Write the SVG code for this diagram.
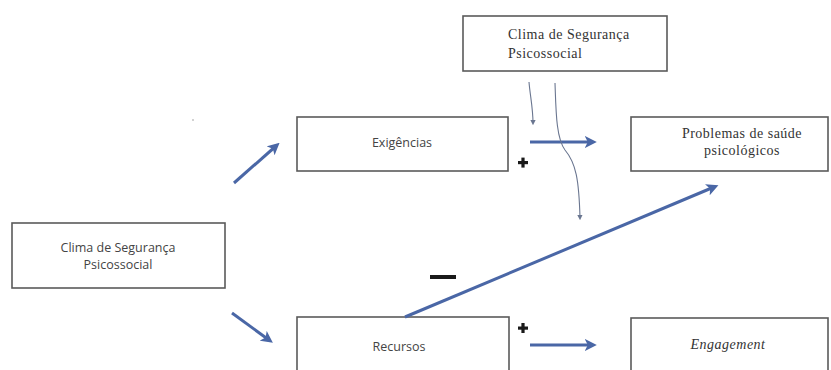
<svg xmlns="http://www.w3.org/2000/svg" width="831" height="370" viewBox="0 0 831 370">
<defs>
<style>
.box{fill:#fff;stroke:#5a5a5a;stroke-width:1.6}
.sans{font-family:"Open Sans","DejaVu Sans",sans-serif;font-size:12.5px;fill:#444}
.serif{font-family:"Liberation Serif","DejaVu Serif",serif;font-size:14px;letter-spacing:0.5px;fill:#333}
.thick{stroke:#4a67a6;stroke-width:3;fill:none;marker-end:url(#ah)}
.thin{stroke:#6a7690;stroke-width:1.1;fill:none;marker-end:url(#ahs)}
.sign{fill:#1a1a1a}
</style>
<marker id="ah" markerWidth="4" markerHeight="4" refX="2.4" refY="2" orient="auto" markerUnits="strokeWidth">
<path d="M0,0 L4,2 L0,4 L1,2 Z" fill="#4a67a6"/>
</marker>
<marker id="ahs" markerWidth="5" markerHeight="5" refX="3" refY="2.5" orient="auto" markerUnits="strokeWidth">
<path d="M0,0 L5,2.5 L0,5 Z" fill="#6a7690"/>
</marker>
</defs>
<rect width="831" height="370" fill="#fff"/>
<g id="node-clima-top">
<rect class="box" x="463" y="16" width="204" height="55"/>
<text class="serif" x="508" y="39">Clima de Segurança</text>
<text class="serif" x="508" y="58">Psicossocial</text>
</g>
<g id="node-exigencias">
<rect class="box" x="297" y="117" width="211" height="54"/>
<text class="sans" x="402" y="147" text-anchor="middle">Exigências</text>
</g>
<g id="node-problemas">
<rect class="box" x="631" y="117" width="197" height="54"/>
<text class="serif" x="742" y="138" text-anchor="middle">Problemas de saúde</text>
<text class="serif" x="742" y="155" text-anchor="middle">psicológicos</text>
</g>
<g id="node-clima-left">
<rect class="box" x="12" y="223" width="213" height="65"/>
<text class="sans" x="118" y="252" text-anchor="middle">Clima de Segurança</text>
<text class="sans" x="118" y="269" text-anchor="middle">Psicossocial</text>
</g>
<g id="node-recursos">
<rect class="box" x="297" y="317" width="212" height="60"/>
<text class="sans" x="399" y="351" text-anchor="middle">Recursos</text>
</g>
<g id="node-engagement">
<rect class="box" x="631" y="318" width="197" height="60"/>
<text class="serif" x="728" y="349" text-anchor="middle" font-style="italic">Engagement</text>
</g>
<g id="connectors">
<line class="thick" x1="234" y1="183" x2="276" y2="146"/>
<line class="thick" x1="232" y1="313" x2="269" y2="340"/>
<line class="thick" x1="530" y1="142" x2="592" y2="142"/>
<line class="thick" x1="530" y1="345" x2="592" y2="345"/>
<line class="thick" x1="405" y1="317" x2="714" y2="187"/>
<path class="thin" d="M529,82 C530,95 533,108 533,123"/>
<path class="thin" d="M555,83 C556,110 556,138 565,150 C576,163 579,180 580,218"/>
</g>
<g id="signs">
<rect class="sign" x="518" y="161" width="10" height="3.2"/>
<rect class="sign" x="521.4" y="157.6" width="3.2" height="10"/>
<rect class="sign" x="518" y="326.5" width="10" height="3.2"/>
<rect class="sign" x="521.4" y="323" width="3.2" height="10"/>
<rect class="sign" x="430" y="275" width="26" height="4"/>
</g>
<circle cx="193" cy="120" r="0.8" fill="#999"/>
</svg>
